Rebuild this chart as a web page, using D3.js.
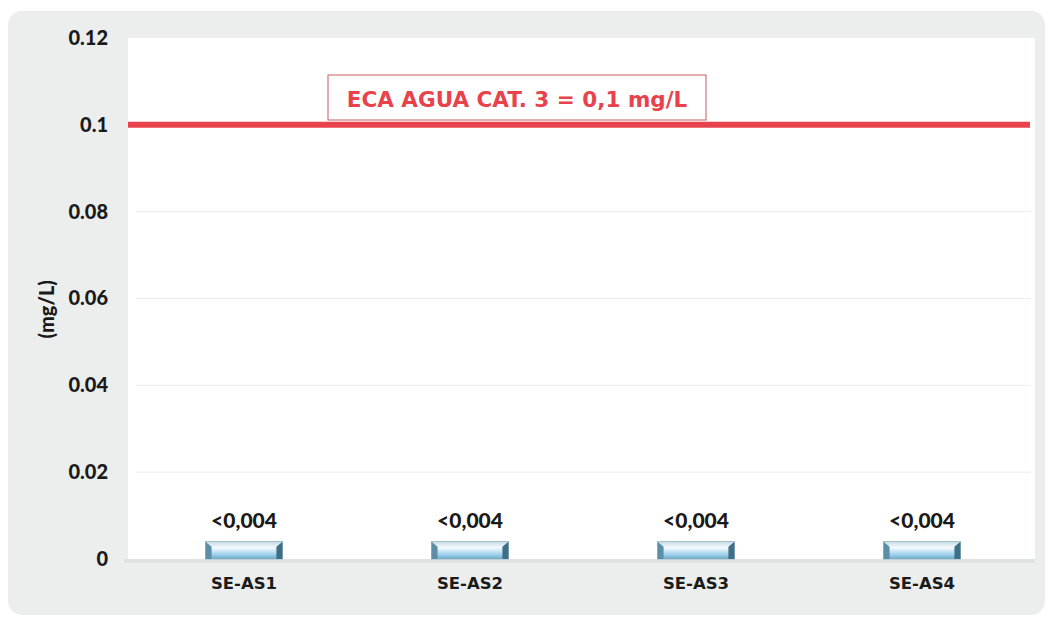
<!DOCTYPE html>
<html><head><meta charset="utf-8">
<script src="https://cdn.jsdelivr.net/npm/d3@7"></script>
<style>body{margin:0;background:#fff}svg{display:block}</style>
</head><body>
<script>
const categories = ["SE-AS1","SE-AS2","SE-AS3","SE-AS4"];
const values = [0.004,0.004,0.004,0.004];
const valueLabels = ["<0,004","<0,004","<0,004","<0,004"];
const yTicks = [0,0.02,0.04,0.06,0.08,0.1,0.12];
const yTickLabels = ["0","0.02","0.04","0.06","0.08","0.1","0.12"];
const limitValue = 0.1;
const limitLabel = "ECA AGUA CAT. 3 = 0,1 mg/L";
const yTitle = "(mg/L)";

const W=1050,H=618;
const svg=d3.select("body").append("svg").attr("width",W).attr("height",H);
const defs=svg.append("defs");
const g1=defs.append("linearGradient").attr("id","barg").attr("x1",0).attr("y1",0).attr("x2",0).attr("y2",1);
g1.append("stop").attr("offset","0%").attr("stop-color","#c9d9e3");
g1.append("stop").attr("offset","35%").attr("stop-color","#f4fbff");
g1.append("stop").attr("offset","75%").attr("stop-color","#9fd0ea");
g1.append("stop").attr("offset","100%").attr("stop-color","#6aa9c8");

// outer panel
svg.append("rect").attr("x",8).attr("y",11).attr("width",1037).attr("height",604).attr("rx",14).attr("fill","#eceeed");
const L=128,R=1035,T=38,B=559;
svg.append("rect").attr("x",L).attr("y",T).attr("width",R-L).attr("height",B-T).attr("fill","#ffffff");
// floor
svg.append("rect").attr("x",L-4).attr("y",B).attr("width",R-L+4).attr("height",4).attr("fill","#dfe2e1");

const y=d3.scaleLinear().domain([0,0.12]).range([B,T]);
const x=d3.scaleBand().domain(categories).range([L+3,R]).paddingInner(0.66).paddingOuter(0.33);

// gridlines
svg.append("g").selectAll("line").data(yTicks.filter(t=>t>0&&t<0.12)).join("line")
 .attr("x1",L+8).attr("x2",R-4).attr("y1",d=>y(d)).attr("y2",d=>y(d))
 .attr("stroke","#ececec").attr("stroke-width",1);

// y axis
const ya=svg.append("g").attr("transform",`translate(${L-20},0)`)
 .call(d3.axisLeft(y).tickValues(yTicks).tickSize(0).tickPadding(0).tickFormat((d,i)=>yTickLabels[i]));
ya.select(".domain").remove();
ya.selectAll("text").attr("font-family","Lato, 'Open Sans', sans-serif").attr("font-weight","900").attr("font-size","20px").attr("fill","#1a1a1a");

svg.append("text").attr("transform",`translate(54,${(y(0.06)+y(0.055))/2}) rotate(-90)`).attr("text-anchor","middle")
 .attr("font-family","Lato, 'Open Sans', sans-serif").attr("font-weight","900").attr("font-size","20px").attr("fill","#1a1a1a").text(yTitle);

// bars
const bars=svg.append("g").selectAll("g").data(categories).join("g");
bars.append("rect").attr("x",d=>x(d)).attr("y",(d,i)=>y(values[i])).attr("width",x.bandwidth())
 .attr("height",(d,i)=>y(0)-y(values[i])).attr("fill","url(#barg)").attr("stroke","#8fb3c6").attr("stroke-width",0.8);
bars.append("path").attr("d",(d,i)=>{const x0=x(d),y0=y(values[i]),yb=y(0);
  return `M${x0},${y0}L${x0+6},${y0+5}L${x0+6},${yb}L${x0},${yb}Z`;}).attr("fill","#5d8ea8");
bars.append("path").attr("d",(d,i)=>{const x1=x(d)+x.bandwidth(),y0=y(values[i]),yb=y(0);
  return `M${x1},${y0}L${x1-6},${y0+5}L${x1-6},${yb}L${x1},${yb}Z`;}).attr("fill","#3f6f86");
bars.append("text").attr("x",d=>x(d)+x.bandwidth()/2).attr("y",(d,i)=>y(values[i])-14).attr("text-anchor","middle")
 .attr("font-family","Lato, 'Open Sans', sans-serif").attr("font-weight","900").attr("font-size","21px").attr("fill","#1a1a1a")
 .text((d,i)=>valueLabels[i]);

// x labels
svg.append("g").selectAll("text").data(categories).join("text")
 .attr("x",d=>x(d)+x.bandwidth()/2).attr("y",B+30).attr("text-anchor","middle")
 .attr("font-family","'DejaVu Sans', Verdana, sans-serif").attr("font-weight","bold").attr("font-size","16.5px").attr("fill","#1a1a1a").text(d=>d);

// limit line
svg.append("line").attr("x1",L).attr("x2",R-5).attr("y1",y(limitValue)).attr("y2",y(limitValue))
 .attr("stroke","#e8424c").attr("stroke-width",6);
// annotation box
svg.append("rect").attr("x",328).attr("y",75).attr("width",378).attr("height",45).attr("fill","#fff").attr("stroke","#c55a63").attr("stroke-width",1);
svg.append("text").attr("x",517).attr("y",107).attr("text-anchor","middle")
 .attr("font-family","'DejaVu Sans', Verdana, sans-serif").attr("font-weight","bold").attr("font-size","21.5px").attr("fill","#e8424c").text(limitLabel);
</script>
</body></html>
